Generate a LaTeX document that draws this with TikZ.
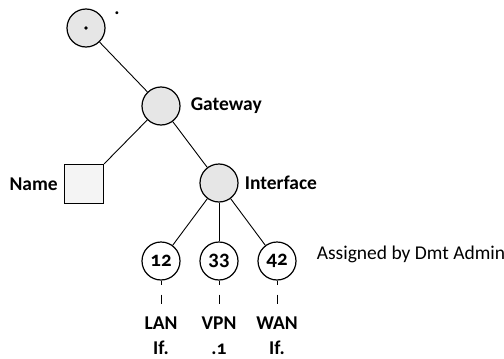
\documentclass[tikz,border=0pt]{standalone}
\usepackage{fontspec}
\setmainfont{Carlito}
\usetikzlibrary{positioning}

\definecolor{nodegray}{HTML}{E6E6E6}
\definecolor{boxgray}{HTML}{F4F4F4}

\begin{document}
\begin{tikzpicture}[x=1pt, y=1pt,
bignode/.style={circle, draw=black, fill=nodegray, line width=1.2pt, minimum size=38pt, inner sep=0pt},
leafnode/.style={circle, draw=black, fill=white, line width=1.2pt, minimum size=38pt, inner sep=0pt, font=\fontsize{21}{22}\selectfont\bfseries\addfontfeatures{Numbers=OldStyle}},
squarednode/.style={rectangle, draw=black, fill=boxgray, line width=1.2pt, minimum size=39pt, inner sep=0pt},
tag/.style={font=\fontsize{19.5}{25}\selectfont\bfseries\addfontfeatures{Numbers=OldStyle}, inner sep=0pt},
link/.style={line width=0.9pt},
dashlink/.style={line width=0.9pt, dash pattern=on 9pt off 10pt, dash phase=5pt},
]
\useasboundingbox (0,0) rectangle (504,-359);

\node[bignode]       (Root)       at (86,-28)   {};
\fill (Root.center) circle (1.8pt);
\node[tag]           (RootTag)    at (117,-13)  {.};
\node[bignode]       (Gateway)    at (161,-106) {};
\node[tag, anchor=west]  (GatewayTag)   [right=10pt of Gateway] {Gateway};
\node[squarednode]   (Name)       at (84,-184)  {};
\node[tag, anchor=east]  (NameTag)      [left=6pt of Name] {Name};
\node[bignode]       (Interface)  at (219,-183) {};
\node[tag, anchor=west]  (InterfaceTag) [right=6pt of Interface] {Interface};

\node[leafnode]      (Lan)        at (161,-261) {12};
\node[leafnode]      (Vpn)        at (219,-261) {33};
\node[leafnode]      (Wan)        at (277,-261) {42};
\node[anchor=west, font=\fontsize{19.5}{22}\selectfont, inner sep=0pt] (Note) [right=20pt of Wan, yshift=7pt] {Assigned by Dmt Admin};

\node[tag, align=center, anchor=north] (LanTag) at (161,-317) {LAN\\If.};
\node[tag, align=center, anchor=north] (VpnTag) at (219,-317) {VPN\\.1};
\node[tag, align=center, anchor=north] (WanTag) at (277,-317) {WAN\\If.};

\coordinate (LanEnd) at (161,-304);
\coordinate (VpnEnd) at (219,-304);
\coordinate (WanEnd) at (277,-304);

\draw[link] (Root) -- (Gateway);
\draw[link] (Gateway) -- (Name.north east);
\draw[link] (Gateway) -- (Interface);
\draw[link] (Interface) -- (Lan);
\draw[link] (Interface) -- (Vpn);
\draw[link] (Interface) -- (Wan);

\draw[dashlink] (Lan.south) -- (LanEnd);
\draw[dashlink] (Vpn.south) -- (VpnEnd);
\draw[dashlink] (Wan.south) -- (WanEnd);

\end{tikzpicture}
\end{document}
